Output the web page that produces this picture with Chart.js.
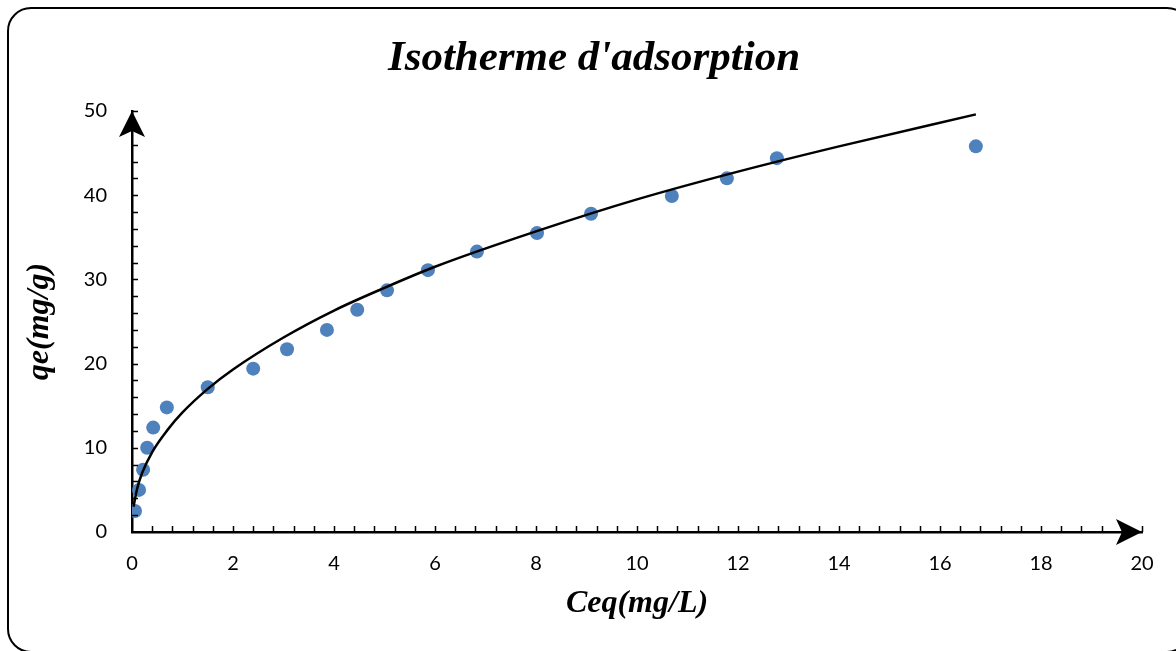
<!DOCTYPE html>
<html>
<head>
<meta charset="utf-8">
<script src="https://cdn.jsdelivr.net/npm/chart.js@4.4.1/dist/chart.umd.min.js"></script>
<style>
  html, body { margin: 0; padding: 0; background: #fff; overflow: hidden; }
  #wrap { position: relative; width: 1176px; height: 651px; }
  #frame {
    position: absolute; left: 7px; top: 7px; width: 1180px; height: 642px;
    border: 2px solid #000; border-radius: 24px; pointer-events: none;
  }
  canvas { position: absolute; left: 0; top: 0; }
</style>
</head>
<body>
<div id="wrap">
  <canvas id="chartIso" width="1176" height="651"></canvas>
  <div id="frame"></div>
</div>
<script>
// mesures (points bleus)
const ceq = [0.06, 0.14, 0.22, 0.30, 0.42, 0.69, 1.50, 2.40, 3.07, 3.86, 4.46, 5.05, 5.86, 6.83, 8.02, 9.09, 10.69, 11.78, 12.77, 16.71];
const qe  = [2.5, 5.0, 7.4, 10.0, 12.4, 14.8, 17.2, 19.4, 21.7, 24.0, 26.4, 28.7, 31.1, 33.3, 35.5, 37.8, 39.9, 42.0, 44.4, 45.8];

// courbe noire
const fitC  = [0.03, 0.1, 0.2, 0.4, 0.7, 1.0, 1.5, 2.0, 3.0, 4.0, 5.0, 6.0, 8.0, 10.0, 12.0, 14.0, 16.71];
const fitQe = [3.0, 5.1, 7.0, 9.5, 12.1, 14.2, 17.0, 19.3, 23.1, 26.3, 29.0, 31.5, 35.7, 39.5, 42.8, 45.8, 49.6];

const xTicks = [0, 20, 2, 0.4];   // min, max, pas majeur, pas mineur
const yTicks = [0, 50, 10, 2];

const chartTitle = "Isotherme d'adsorption";

const serif = '"Liberation Serif", "Times New Roman", serif';
const tickFont = { family: 'Lato', size: 20 };
const titleFont = { family: serif, size: 32, weight: 'bold', style: 'italic' };

// titre, petites graduations vers l'intérieur + flèches au bout des axes
const axesDeco = {
  id: 'axesDeco',
  afterDraw(chart) {
    const ctx = chart.ctx;
    const xs = chart.scales.x, ys = chart.scales.y;
    const x0 = xs.getPixelForValue(xTicks[0]);
    const y0 = ys.getPixelForValue(yTicks[0]);
    ctx.save();

    ctx.fillStyle = '#000';
    ctx.font = 'italic bold 43px ' + serif;
    ctx.textAlign = 'center';
    ctx.textBaseline = 'alphabetic';
    ctx.fillText(chartTitle, 594, 70);

    ctx.strokeStyle = '#000';
    ctx.lineWidth = 1.5;
    ctx.beginPath();
    for (let v = xTicks[0] + xTicks[3]; v <= xTicks[1] + 1e-9; v += xTicks[3]) {
      const px = Math.round(xs.getPixelForValue(v)) + 0.5;
      ctx.moveTo(px, y0);
      ctx.lineTo(px, y0 - 6);
    }
    for (let v = yTicks[0] + yTicks[3]; v <= yTicks[1] + 1e-9; v += yTicks[3]) {
      const py = Math.round(ys.getPixelForValue(v)) + 0.5;
      ctx.moveTo(x0, py);
      ctx.lineTo(x0 + 6, py);
    }
    ctx.stroke();

    // flèche x
    const xe = xs.getPixelForValue(xTicks[1]);
    ctx.beginPath();
    ctx.moveTo(xe, y0);
    ctx.lineTo(xe - 26, y0 - 13);
    ctx.lineTo(xe - 20, y0);
    ctx.lineTo(xe - 26, y0 + 13);
    ctx.closePath();
    ctx.fill();
    // flèche y
    const ye = ys.getPixelForValue(yTicks[1]);
    ctx.beginPath();
    ctx.moveTo(x0, ye);
    ctx.lineTo(x0 - 13, ye + 26);
    ctx.lineTo(x0, ye + 20);
    ctx.lineTo(x0 + 13, ye + 26);
    ctx.closePath();
    ctx.fill();
    ctx.restore();
  }
};

new Chart(document.getElementById('chartIso').getContext('2d'), {
  type: 'scatter',
  data: {
    datasets: [
      {
        label: 'Modèle',
        data: fitC.map((c, i) => ({ x: c, y: fitQe[i] })),
        showLine: true,
        borderColor: '#000',
        borderWidth: 2.5,
        pointRadius: 0,
        cubicInterpolationMode: 'monotone',
        fill: false,
        order: 0
      },
      {
        label: 'qe',
        data: ceq.map((c, i) => ({ x: c, y: qe[i] })),
        backgroundColor: '#4F81BD',
        borderColor: '#4F81BD',
        pointRadius: 7,
        pointBorderWidth: 0,
        order: 1
      }
    ]
  },
  options: {
    responsive: false,
    animation: false,
    layout: { padding: { left: 0, right: 34, top: 111, bottom: 0 } },
    plugins: {
      legend: { display: false },
      tooltip: { enabled: false },
      title: { display: false }
    },
    scales: {
      x: {
        type: 'linear',
        min: xTicks[0], max: xTicks[1],
        grid: { display: false },
        border: { display: true, color: '#000', width: 2.5 },
        ticks: { stepSize: xTicks[2], color: '#000', font: tickFont, padding: 12 },
        title: { display: true, text: 'Ceq(mg/L)', color: '#000', font: titleFont, padding: { top: 0, bottom: 28 } },
        afterFit(scale) { scale.height = 119; }
      },
      y: {
        type: 'linear',
        min: yTicks[0], max: yTicks[1],
        grid: { display: false },
        border: { display: true, color: '#000', width: 2.5 },
        ticks: { stepSize: yTicks[2], color: '#000', font: tickFont, padding: 17 },
        title: { display: true, text: 'qe(mg/g)', color: '#000', font: titleFont, padding: { top: 21, bottom: 0 } },
        afterFit(scale) { scale.width = 132; }
      }
    }
  },
  plugins: [axesDeco]
});
</script>
</body>
</html>
